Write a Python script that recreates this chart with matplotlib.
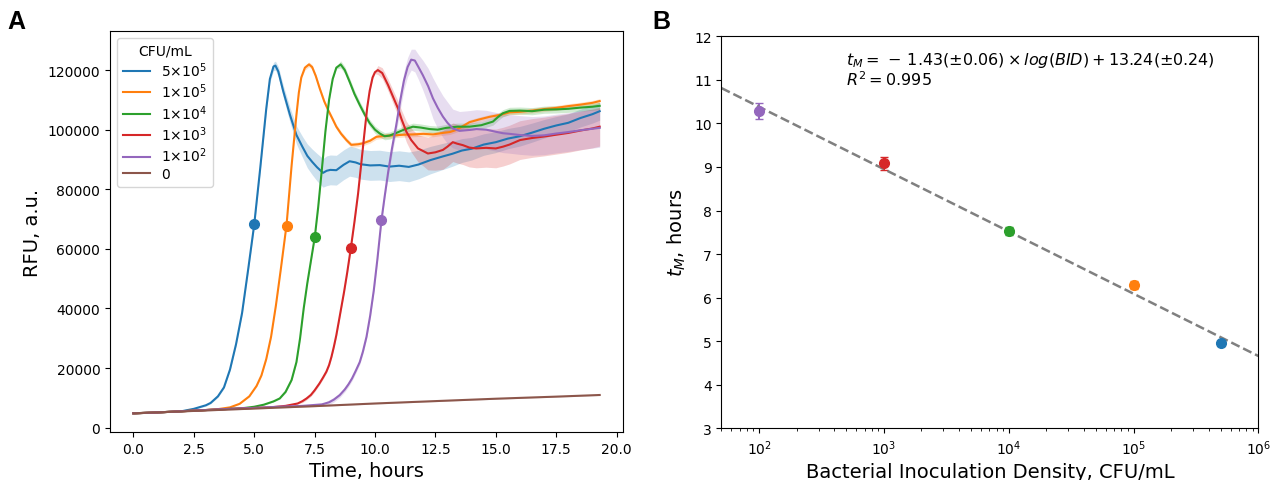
import matplotlib
matplotlib.use('Agg')
import matplotlib.pyplot as plt
import numpy as np

# ---- panel A: growth curves ----
labels = ['$5{\\times}10^5$', '$1{\\times}10^5$', '$1{\\times}10^4$',
          '$1{\\times}10^3$', '$1{\\times}10^2$', '0']
colors = ['tab:blue', 'tab:orange', 'tab:green', 'tab:red', 'tab:purple', 'tab:brown']

t_5e5 = [0, 1, 2, 2.5, 3.0, 3.2, 3.5, 3.75, 4.0, 4.25, 4.5, 4.75, 5.0, 5.25, 5.5, 5.65,
         5.8, 5.88, 6.0, 6.2, 6.48, 6.75, 7.0, 7.2, 7.4, 7.6, 7.85, 8.0, 8.15, 8.4, 8.7,
         8.95, 9.2, 9.4, 9.8, 10.2, 10.6, 11.0, 11.4, 11.8, 12.3, 12.8, 13.2, 13.6, 14.0,
         14.5, 15.0, 15.5, 16.0, 16.5, 17.0, 17.5, 18.0, 18.5, 19.0, 19.3]
y_5e5 = [4800, 5100, 5500, 6300, 7500, 8300, 10500, 13500, 19500, 28000, 38500, 53000,
         68000, 87000, 107000, 117000, 121200, 121500, 119500, 113000, 105000, 98200,
         94200, 91200, 89200, 87400, 85500, 86200, 86500, 86400, 88200, 89400, 89000,
         88400, 88000, 88100, 87600, 87900, 87500, 88300, 89800, 91000, 91900, 93000,
         93600, 95000, 95800, 97000, 97800, 99000, 100300, 101400, 102300, 103900,
         105200, 106200]
e_5e5 = [150, 150, 200, 250, 300, 300, 350, 400, 450, 500, 600, 700, 800, 900, 1000,
         1200, 1400, 1500, 1700, 2000, 2500, 3000, 3500, 4000, 4300, 4600, 4800, 5000,
         5000, 5000, 5000, 5000, 5000, 5000, 5000, 5000, 5000, 5000, 5000, 4800, 4600,
         4400, 4200, 4000, 3800, 3600, 3500, 3400, 3300, 3200, 3100, 3000, 3000, 3000,
         3000, 3000]

t_1e5 = [0, 1, 2, 3, 3.5, 4.0, 4.4, 4.8, 5.1, 5.3, 5.5, 5.7, 5.9, 6.1, 6.34, 6.55, 6.75,
         6.85, 6.95, 7.1, 7.27, 7.4, 7.55, 7.71, 7.9, 8.06, 8.25, 8.4, 8.6, 8.82, 9.02, 9.3,
         9.5, 9.8, 10.06, 10.4, 10.8, 11.2, 11.57, 12.0, 12.4, 12.8, 13.1, 13.36, 13.6,
         13.91, 14.3, 14.74, 15.2, 15.57, 16.0, 16.5, 17.0, 17.5, 18.0, 18.5, 19.0, 19.3]
y_1e5 = [4800, 5100, 5500, 5900, 6200, 6800, 8000, 10500, 14000, 17500, 23000, 30500,
         41000, 53000, 68000, 88000, 105000, 112500, 117500, 120800, 121900, 121000,
         118000, 113900, 109500, 106600, 103500, 101000, 98600, 96500, 94900, 95100,
         95400, 96300, 97600, 97900, 98100, 98300, 98400, 98600, 98400, 98900, 99200,
         99900, 101000, 102500, 103400, 104300, 105000, 105800, 106000, 106400, 106900,
         107300, 107900, 108400, 109000, 109600]
e_1e5 = [150] * 8 + [300] * 11 + [800] * 39

t_1e4 = [0, 1, 2, 3, 4, 4.6, 5.0, 5.4, 5.8, 6.06, 6.3, 6.55, 6.75, 6.9, 7.05, 7.2, 7.35,
         7.51, 7.65, 7.8, 7.95, 8.1, 8.25, 8.4, 8.58, 8.75, 8.95, 9.15, 9.37, 9.58, 9.78,
         10.0, 10.2, 10.4, 10.6, 10.88, 11.2, 11.57, 11.9, 12.26, 12.6, 12.95, 13.4, 13.91,
         14.4, 14.88, 15.1, 15.29, 15.57, 16.0, 16.5, 17.0, 17.5, 18.0, 18.5, 19.0, 19.3]
y_1e4 = [4800, 5100, 5500, 5900, 6300, 6600, 7000, 7700, 8800, 9800, 12000, 16000, 22000,
         30000, 40000, 48500, 56000, 64000, 74000, 86500, 99500, 110000, 117000, 120800,
         121900, 120000, 116100, 112000, 108300, 105000, 102200, 100000, 98700, 97800,
         98000, 98900, 100000, 101000, 100700, 100200, 100000, 100600, 101000, 101000,
         101500, 102700, 104300, 105500, 106300, 106400, 106200, 106700, 106800, 107000,
         107400, 107700, 108000]
e_1e4 = [150] * 10 + [400] * 14 + [1200] * 33

t_1e3 = [0, 1, 2, 3, 4, 5, 5.8, 6.3, 6.8, 7.0, 7.17, 7.35, 7.5, 7.7, 7.85, 7.99, 8.1, 8.2,
         8.3, 8.4, 8.5, 8.61, 8.72, 8.85, 9.0, 9.15, 9.3, 9.45, 9.57, 9.68, 9.78, 9.9, 10.0,
         10.12, 10.3, 10.54, 10.75, 10.95, 11.1, 11.3, 11.5, 11.78, 12.0, 12.19, 12.5,
         12.81, 13.0, 13.22, 13.4, 13.64, 13.9, 14.19, 14.6, 15.0, 15.3, 15.57, 16.0, 16.5,
         17.0, 17.5, 18.0, 18.5, 19.0, 19.3]
y_1e3 = [4800, 5100, 5500, 5900, 6300, 6600, 6900, 7300, 8100, 8900, 9800, 11000, 12500,
         14800, 16800, 18800, 21000, 23800, 27200, 31000, 35500, 40500, 45500, 52000,
         60200, 69000, 78500, 90000, 99300, 107500, 113000, 117500, 119300, 120000,
         119000, 115000, 111000, 107200, 103500, 99300, 96500, 93700, 92800, 92000, 92400,
         93200, 94300, 95800, 95300, 94800, 94000, 93700, 93900, 93700, 94300, 95000,
         96500, 97200, 97700, 98300, 98900, 99700, 100400, 101000]
e_1e3 = [150] * 9 + [500] * 24 + [1500, 1800, 2000, 2200, 2500, 3000, 3500, 4000, 4500,
                                  5000, 5500, 6000] + [6500] * 19

t_1e2 = [0, 1, 2, 3, 4, 5, 6, 7, 7.8, 8.1, 8.3, 8.54, 8.75, 8.9, 9.05, 9.2, 9.37, 9.5,
         9.65, 9.8, 9.95, 10.1, 10.27, 10.4, 10.55, 10.7, 10.88, 11.05, 11.2, 11.35, 11.5,
         11.65, 11.8, 11.98, 12.2, 12.4, 12.6, 12.81, 13.0, 13.22, 13.5, 13.91, 14.2, 14.6,
         15.0, 15.3, 15.57, 16.0, 16.5, 17.0, 17.5, 18.0, 18.5, 19.0, 19.3]
y_1e2 = [4800, 5100, 5500, 5900, 6300, 6600, 7000, 7300, 7800, 8500, 9400, 10900, 12800,
         14500, 16500, 19000, 22000, 25500, 30500, 37500, 46000, 56500, 69700, 77500,
         86000, 93500, 101500, 110000, 116500, 121000, 123500, 123200, 121000, 118300,
         114600, 110500, 107300, 104400, 102300, 100400, 99600, 99900, 100200, 100000,
         99300, 98800, 98600, 98200, 97900, 98100, 98700, 99200, 99800, 100300, 100600]
e_1e2 = [150] * 9 + [800] * 15 + [1500, 2000, 2500, 3000, 3000, 3200, 3500, 3800, 4200,
                                  5000, 6000, 6800, 7000, 7000, 7000] + [6500] * 16

t_0 = [0, 2.5, 5, 7.5, 10, 12.5, 15, 17.5, 19.3]
y_0 = [4800, 5600, 6400, 7200, 8100, 8900, 9700, 10400, 10950]
e_0 = [150] * 9

series_t = [t_5e5, t_1e5, t_1e4, t_1e3, t_1e2, t_0]
series_y = [y_5e5, y_1e5, y_1e4, y_1e3, y_1e2, y_0]
series_e = [e_5e5, e_1e5, e_1e4, e_1e3, e_1e2, e_0]

# tM markers on the curves
dot_time = [5.0, 6.34, 7.51, 9.0, 10.27]
dot_rfu = [68200, 67800, 64000, 60200, 69700]

# ---- panel B: tM vs inoculation density ----
bid = [1e2, 1e3, 1e4, 1e5, 5e5]
tm = [10.28, 9.08, 7.52, 6.29, 4.95]
tm_err = [0.19, 0.14, 0.09, 0.10, 0.05]
tm_colors = ['tab:purple', 'tab:red', 'tab:green', 'tab:orange', 'tab:blue']
fit_slope = -1.43
fit_intercept = 13.24

fig = plt.figure(figsize=(12.84, 4.81), dpi=100)
ax1 = fig.add_axes([0.0857, 0.0998, 0.3995, 0.8337])
ax2 = fig.add_axes([0.5619, 0.1075, 0.4181, 0.815])

for t, y, e, c, lab in zip(series_t, series_y, series_e, colors, labels):
    t = np.array(t)
    y = np.array(y)
    e = np.array(e)
    ax1.fill_between(t, y - e, y + e, color=c, alpha=0.22, lw=0)
    ax1.plot(t, y, color=c, lw=1.5, label=lab)
for x, y, c in zip(dot_time, dot_rfu, colors):
    ax1.plot(x, y, 'o', color=c, ms=7)

ax1.set_xlabel('Time, hours', fontsize=14)
ax1.set_ylabel('RFU, a.u.', fontsize=14)
ax1.tick_params(labelsize=10)
ax1.legend(title='CFU/mL', fontsize=10, title_fontsize=10, loc='upper left',
           labelspacing=0.2)

for x, y, err, c in zip(bid, tm, tm_err, tm_colors):
    ax2.errorbar(x, y, yerr=err, fmt='o', color=c, ms=7, capsize=3, elinewidth=1.5)
xfit = np.array([50, 1e6])
ax2.plot(xfit, fit_slope * np.log10(xfit) + fit_intercept, '--', color='gray', lw=1.8)
ax2.set_xscale('log')
ax2.set_xlim(50, 1e6)
ax2.set_ylim(3, 12)
ax2.set_xlabel('Bacterial Inoculation Density, CFU/mL', fontsize=14)
ax2.set_ylabel('$t_M$, hours', fontsize=14)
ax2.tick_params(labelsize=10)
ax2.text(0.232, 0.965,
         '$t_M = \\,-\\,1.43(\\pm0.06) \\times log(BID) + 13.24(\\pm0.24)$\n$R^2 = 0.995$',
         transform=ax2.transAxes, fontsize=11.5, va='top', linespacing=1.0)

fig.text(0.006, 0.98, 'A', fontsize=18, fontweight='bold', family='Liberation Sans', va='top')
fig.text(0.508, 0.98, 'B', fontsize=18, fontweight='bold', family='Liberation Sans', va='top')

fig.savefig('out.png', dpi=100)
